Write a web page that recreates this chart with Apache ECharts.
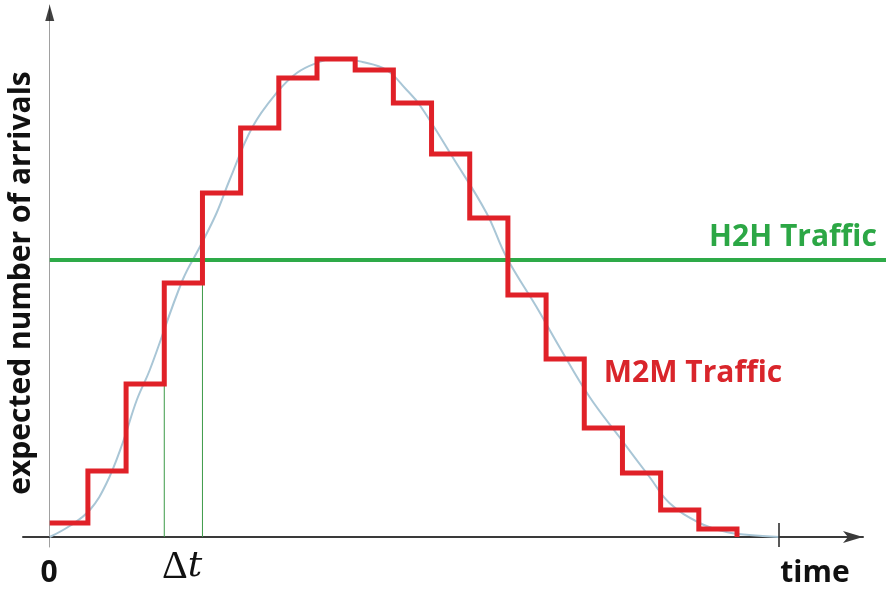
<!DOCTYPE html>
<html>
<head>
<meta charset="utf-8">
<title>M2M vs H2H traffic</title>
<script src="https://cdn.jsdelivr.net/npm/echarts@6/dist/echarts.min.js"></script>
<style>
  html, body { margin: 0; padding: 0; background: #fff; }
  #chart { width: 886px; height: 592px; }
</style>
</head>
<body>
<div id="chart"></div>
<script>
// expected arrivals per slot of width Δt (M2M, stepped)
var stepLevels = [14, 66, 153, 254, 344, 409, 459, 478, 467, 434, 383, 319, 242, 178, 109, 64, 27, 8]
// smooth underlying arrival rate
var curveX = [0, 0.52, 1.05, 1.49, 1.91, 2.28, 2.62, 3.48, 3.93, 4.37, 4.71, 5.31, 5.94, 6.47, 6.99, 7.51, 8.19, 8.82, 9.35, 9.69, 10.55, 11.44, 11.96, 12.75, 13.35, 14.14, 14.92, 15.71, 16.23, 17.02, 17.72, 18.32, 19.11]
var curveY = [0, 11, 27, 54, 94, 137, 167, 257, 290, 324, 357, 410, 444, 464, 474, 479, 475, 467, 447, 432, 380, 324, 280, 230, 190, 140, 100, 60, 34, 14, 5, 2, 0]
// H2H traffic is flat, runs to the right edge
var h2hLevel = 277
var h2hSpan = [0, 21.9]
// the Δt slot marked under the curve
var dtSlot = [3, 4]
// end-of-time tick on the x axis
var endTick = 19.1

var red = '#e02128'
var green = '#2eaa48'
var font = 'bold 30px "Open Sans"'

// step data: one point per slot boundary, then drop to zero
var stepData = stepLevels.map(function (v, i) { return [i, v] })
stepData.push([stepLevels.length, stepLevels[stepLevels.length - 1]])
stepData.push([stepLevels.length, 0])

var curveData = curveX.map(function (x, i) { return [x, curveY[i]] })

var dtSeries = dtSlot.map(function (x) {
  return {
    type: 'line',
    data: [[x, 0], [x, stepLevels[dtSlot[0]]]],
    symbol: 'none',
    lineStyle: { color: '#3d9a48', width: 1 },
    z: 1,
    silent: true
  }
})

var hidden = {
  axisLine: { show: false },
  axisTick: { show: false },
  axisLabel: { show: false },
  splitLine: { show: false }
}

var chart = echarts.init(document.getElementById('chart'))
chart.setOption({
  animation: false,
  backgroundColor: '#fff',
  grid: [
    { left: 23, right: 23, top: 5, bottom: 45 },
    // same scale but reaching the right edge, for the H2H line
    { left: 23, right: 0, top: 5, bottom: 45 }
  ],
  xAxis: [
    {
      type: 'value',
      min: -0.7,
      max: 21.3,
      axisLine: {
        onZero: true,
        lineStyle: { color: '#3a3a3a', width: 2 },
        symbol: ['none', 'arrow'],
        symbolSize: [9, 20]
      },
      axisTick: { show: false },
      axisLabel: { show: false },
      splitLine: { show: false }
    },
    Object.assign({ type: 'value', gridIndex: 1, min: -0.7, max: 21.9 }, hidden)
  ],
  yAxis: [
    {
      type: 'value',
      min: -10,
      max: 532,
      axisLine: {
        onZero: true,
        lineStyle: { color: '#a0a0a0', width: 1 }
      },
      axisTick: { show: false },
      axisLabel: { show: false },
      splitLine: { show: false }
    },
    Object.assign({ type: 'value', gridIndex: 1, min: -10, max: 532 }, hidden)
  ],
  series: [
    ...dtSeries,
    {
      // end tick
      type: 'line',
      data: [[endTick, -10], [endTick, 14]],
      symbol: 'none',
      lineStyle: { color: '#222', width: 1.5 },
      silent: true
    },
    {
      // arrow head of the y axis
      type: 'scatter',
      data: [[0, 524]],
      symbol: 'triangle',
      symbolSize: [9, 16],
      itemStyle: { color: '#111' },
      silent: true
    },
    {
      name: 'rate',
      type: 'line',
      data: curveData,
      smooth: 0.4,
      symbol: 'none',
      lineStyle: { color: '#a9c6d6', width: 2 },
      z: 2
    },
    {
      name: 'H2H Traffic',
      type: 'line',
      xAxisIndex: 1,
      yAxisIndex: 1,
      data: h2hSpan.map(function (x) { return [x, h2hLevel] }),
      symbol: 'none',
      lineStyle: { color: green, width: 4 },
      z: 3
    },
    {
      name: 'M2M Traffic',
      type: 'line',
      step: 'end',
      data: stepData,
      symbol: 'none',
      lineStyle: { color: red, width: 5, join: 'miter' },
      z: 4
    }
  ],
  graphic: [
    {
      type: 'text', x: 21, y: 283, rotation: Math.PI / 2,
      style: { text: 'expected number of arrivals', font: font, fill: '#111', align: 'center', verticalAlign: 'middle' }
    },
    {
      type: 'text', x: 49, y: 573,
      style: { text: '0', font: font, fill: '#111', align: 'center', verticalAlign: 'middle' }
    },
    {
      type: 'text', x: 182, y: 567,
      style: {
        text: '{d|Δ}{t|t}', align: 'center', verticalAlign: 'middle',
        rich: {
          d: { font: '40px "Liberation Serif"', fill: '#111' },
          t: { font: 'italic 36px "DejaVu Serif"', fill: '#111' }
        }
      }
    },
    {
      type: 'text', x: 815, y: 573,
      style: { text: 'time', font: font, fill: '#111', align: 'center', verticalAlign: 'middle' }
    },
    {
      type: 'text', x: 793, y: 237,
      style: { text: 'H2H Traffic', font: font, fill: '#2ca745', align: 'center', verticalAlign: 'middle' }
    },
    {
      type: 'text', x: 693, y: 373,
      style: { text: 'M2M Traffic', font: font, fill: '#d9252b', align: 'center', verticalAlign: 'middle' }
    }
  ]
})
</script>
</body>
</html>
